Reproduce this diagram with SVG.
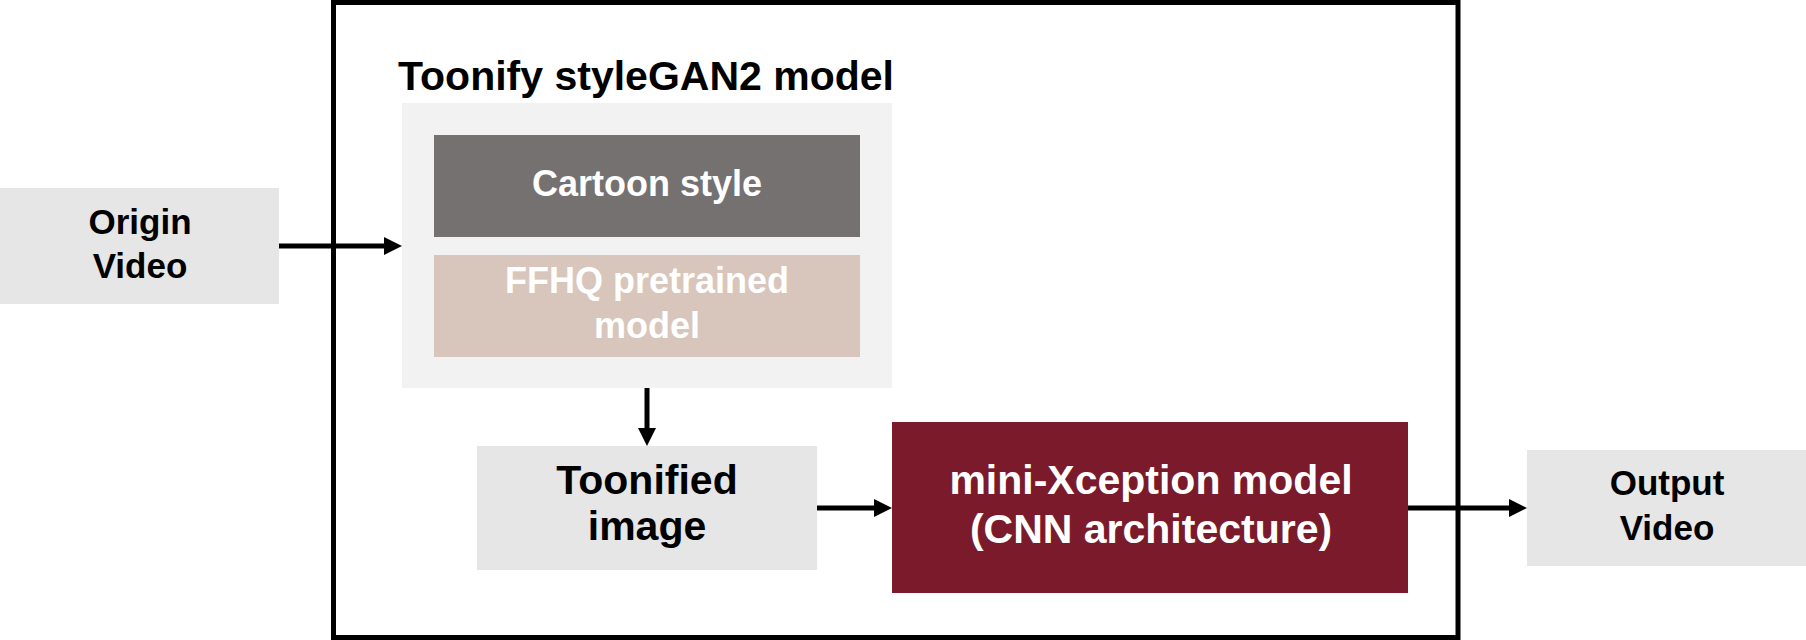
<svg xmlns="http://www.w3.org/2000/svg" width="1806" height="640" viewBox="0 0 1806 640">
  <defs>
    <marker id="arrow" markerUnits="userSpaceOnUse" markerWidth="18" markerHeight="18" refX="8" refY="9" orient="auto">
      <path d="M0,0 L18,9 L0,18 z" fill="#000"/>
    </marker>
  </defs>
  <style>
    text { font-family: "Liberation Sans", Arial, sans-serif; font-weight: bold; text-anchor: middle; }
    .dark { fill: #000; }
    .light { fill: #fff; }
    .conn { stroke: #000; stroke-width: 5; fill: none; marker-end: url(#arrow); }
  </style>
  <rect width="1806" height="640" fill="#fff"/>

  <g id="system-frame">
    <rect x="333.5" y="2.5" width="1124.5" height="635" fill="none" stroke="#000" stroke-width="5"/>
  </g>

  <g id="origin-video">
    <rect x="0" y="188" width="279" height="116" fill="#e6e6e6"/>
    <text class="dark" x="140" y="234" font-size="35">Origin</text>
    <text class="dark" x="140" y="278" font-size="35">Video</text>
  </g>

  <g id="toonify-stylegan2">
    <text class="dark" x="646" y="90" font-size="41">Toonify styleGAN2 model</text>
    <rect x="402" y="103" width="490" height="285" fill="#f2f2f2"/>
  </g>

  <g id="cartoon-style">
    <rect x="434" y="135" width="426" height="102" fill="#767171"/>
    <text class="light" x="647" y="196" font-size="36">Cartoon style</text>
  </g>

  <g id="ffhq-pretrained">
    <rect x="434" y="255" width="426" height="102" fill="#d8c6bd"/>
    <text class="light" x="647" y="293" font-size="36">FFHQ pretrained</text>
    <text class="light" x="647" y="338" font-size="36">model</text>
  </g>

  <g id="toonified-image">
    <rect x="477" y="446" width="340" height="124" fill="#e6e6e6"/>
    <text class="dark" x="647" y="494" font-size="41">Toonified</text>
    <text class="dark" x="647" y="540" font-size="41">image</text>
  </g>

  <g id="mini-xception">
    <rect x="892" y="422" width="516" height="171" fill="#7b1a2b"/>
    <text class="light" x="1151" y="494" font-size="41">mini-Xception model</text>
    <text class="light" x="1151" y="543" font-size="41">(CNN architecture)</text>
  </g>

  <g id="output-video">
    <rect x="1527" y="450" width="279" height="116" fill="#e6e6e6"/>
    <text class="dark" x="1667" y="495" font-size="35">Output</text>
    <text class="dark" x="1667" y="540" font-size="35">Video</text>
  </g>

  <g id="connectors">
    <line class="conn" x1="279" y1="246" x2="392" y2="246"/>
    <line class="conn" x1="647" y1="388" x2="647" y2="436"/>
    <line class="conn" x1="817" y1="508" x2="882" y2="508"/>
    <line class="conn" x1="1408" y1="508" x2="1517" y2="508"/>
  </g>
</svg>
